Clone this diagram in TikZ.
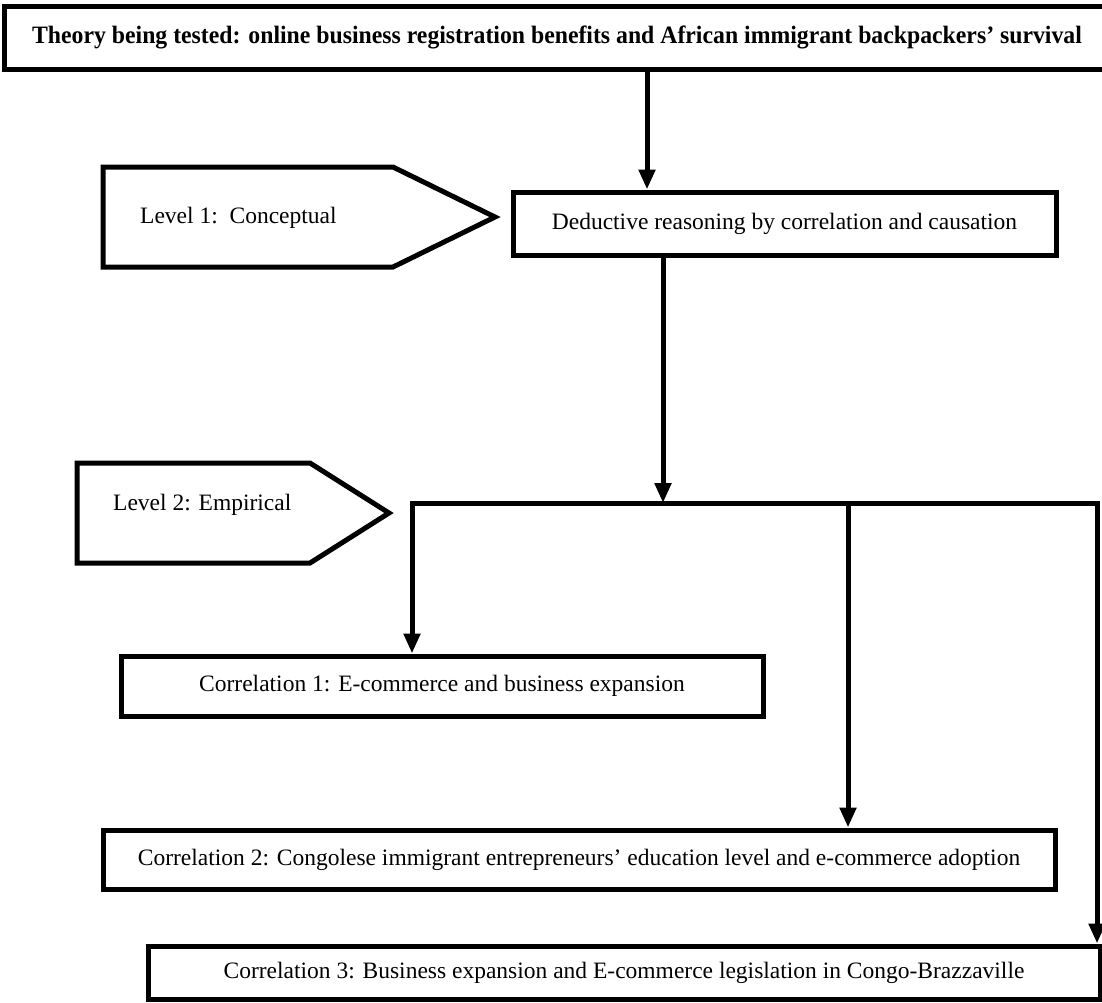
\documentclass[tikz,border=0pt]{standalone}
\usepackage{fontspec}
\usepackage{graphicx}
\setmainfont{Liberation Serif}
\usetikzlibrary{arrows.meta,calc}
\tikzset{
  boxnode/.style={draw=black,line width=5pt,fill=white,inner sep=0pt,font=\fontsize{23.5}{28}\selectfont},
  txt/.style={inner sep=0pt,anchor=west,font=\fontsize{23.5}{28}\selectfont},
  conn/.style={line width=5pt,draw=black},
  arr/.style={conn,-{Triangle[length=20pt,width=16pt]}},
  pent/.style={draw=black,line width=5pt,line join=miter}
}
\begin{document}
\begin{tikzpicture}[x=1pt,y=-1pt]
\clip (0,0) rectangle (1102,1002);
\fill[white] (0,0) rectangle (1102,1002);
% top box
\node[boxnode,minimum width=1106pt,minimum height=63pt,font=\fontsize{25}{30}\selectfont\bfseries] (top) at (557,37.5)
  {\scalebox{0.95}[1]{Theory being tested: online business registration benefits and African immigrant backpackers’ survival}};
% level 1 pentagon
\draw[pent] (103,167) -- (393,167) -- (495,217) -- (393,267) -- (103,267) -- cycle;
\node[txt] (lev1) at (140,218) {Level 1:\ \ Conceptual};
% deductive box
\node[boxnode,minimum width=543pt,minimum height=63pt] (ded) at (784.5,223.5) {Deductive reasoning by correlation and causation};
% level 2 pentagon
\draw[pent] (77,463) -- (310,463) -- (389,513) -- (310,563) -- (77,563) -- cycle;
\node[txt] (lev2) at (113,505) {Level 2: Empirical};
% correlation boxes
\node[boxnode,minimum width=642pt,minimum height=60pt] (c1) at (442,686) {Correlation 1: E-commerce and business expansion};
\node[boxnode,minimum width=952pt,minimum height=59pt] (c2) at (579,859.5) {Correlation 2: Congolese immigrant entrepreneurs’ education level and e-commerce adoption};
\node[boxnode,minimum width=952pt,minimum height=53pt] (c3) at (624,972.5) {Correlation 3: Business expansion and E-commerce legislation in Congo-Brazzaville};
% connectors
\coordinate (a1) at (647,0);
\coordinate (j) at (663,503);
\coordinate (b1) at (412,503);
\coordinate (b2) at (848,503);
\coordinate (b3) at (1097,503);
\draw[arr] (top.south -| a1) -- (ded.north -| a1);
\draw[arr] (ded.south -| j) -- (j);
\draw[arr,line join=miter] (j) -- (b1) -- (c1.north -| b1);
\draw[arr,line join=miter] (j) -- (b3) -- (c3.north -| b3);
\draw[arr] (b2) -- (c2.north -| b2);
\end{tikzpicture}
\end{document}
